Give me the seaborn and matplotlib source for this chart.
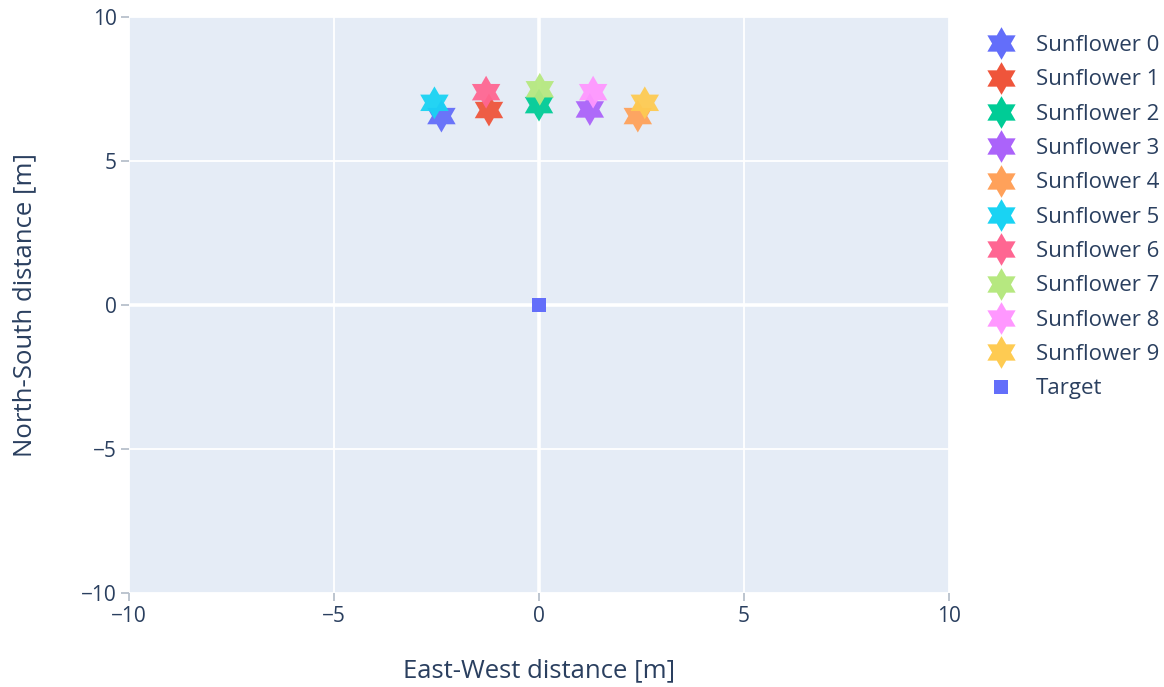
import numpy as np
import pandas as pd
import matplotlib
matplotlib.use("Agg")
import matplotlib.pyplot as plt
from matplotlib.path import Path
from matplotlib.lines import Line2D
import seaborn as sns

# Heliostat ("sunflower") positions and the target, in metres
names = [f"Sunflower {i}" for i in range(10)]
east_west = [-2.38, -1.22, 0.00, 1.24, 2.41, -2.55, -1.29, 0.02, 1.32, 2.58]
north_south = [6.56, 6.77, 6.94, 6.79, 6.56, 7.02, 7.39, 7.49, 7.39, 7.02]
target_name = "Target"
target_x = [0.0]
target_y = [0.0]

colors = ["#636EFA", "#EF553B", "#00CC96", "#AB63FA", "#FFA15A",
          "#19D3F3", "#FF6692", "#B6E880", "#FF97FF", "#FECB52"]

x_ticks = [-10, -5, 0, 5, 10]
y_ticks = [-10, -5, 0, 5, 10]

# Six-pointed star marker (hexagram), first point facing up
ang_out = np.deg2rad(90 + np.arange(6) * 60)
ang_in = ang_out + np.deg2rad(30)
r_in = 1 / np.sqrt(3)
verts = []
for ao, ai in zip(ang_out, ang_in):
    verts.append((np.cos(ao), np.sin(ao)))
    verts.append((r_in * np.cos(ai), r_in * np.sin(ai)))
verts.append(verts[0])
codes = [Path.MOVETO] + [Path.LINETO] * 11 + [Path.CLOSEPOLY]
star6 = Path(verts, codes)

sns.set_theme(style="darkgrid")
text_color = "#2a3f5f"
plt.rcParams["font.family"] = ["Open Sans", "DejaVu Sans"]

fig = plt.figure(figsize=(11.64, 6.87), dpi=100)
ax = fig.add_axes([129 / 1164, 1 - 593 / 687, (949 - 129) / 1164, (593 - 17) / 687])
ax.set_facecolor("#E5ECF6")

sun_df = pd.DataFrame({"name": names, "x": east_west, "y": north_south})
tgt_df = pd.DataFrame({"name": [target_name], "x": target_x, "y": target_y})
palette = dict(zip(names, colors))

sns.scatterplot(data=sun_df, x="x", y="y", hue="name", palette=palette,
                marker=star6, s=560, linewidth=0, alpha=0.95, ax=ax,
                legend=False, zorder=3)
sns.scatterplot(data=tgt_df, x="x", y="y", color="#636EFA", marker="s",
                s=110, linewidth=0, ax=ax, legend=False, zorder=3)

ax.set_xlim(-10, 10)
ax.set_ylim(-10, 10)
ax.set_xticks(x_ticks)
ax.set_yticks(y_ticks)
ax.grid(True, color="white", linewidth=1.3)
ax.axhline(0, color="white", linewidth=2.6, zorder=1)
ax.axvline(0, color="white", linewidth=2.6, zorder=1)
for sp in ax.spines.values():
    sp.set_visible(False)
ax.tick_params(axis="both", which="both", direction="out", length=6,
               width=1.3, color="#b8c0cc", labelcolor=text_color,
               labelsize=15, pad=3, bottom=True, left=True)
ax.set_xlabel("East-West distance [m]", fontsize=18.5, color=text_color)
ax.set_ylabel("North-South distance [m]", fontsize=18.5, color=text_color)
ax.xaxis.set_label_coords(0.5, (593 - 658) / 576)
ax.yaxis.set_label_coords((37 - 129) / 820, 0.5)

handles = [Line2D([], [], linestyle="none", marker=star6, markersize=23.5,
                  markerfacecolor=c, markeredgewidth=0)
           for c in colors]
handles.append(Line2D([], [], linestyle="none", marker="s", markersize=10.5,
                      markerfacecolor="#636EFA", markeredgewidth=0))
leg = fig.legend(handles, names + [target_name], loc="upper left",
                 bbox_to_anchor=(988 / 1164, 1 - 35 / 687), frameon=False,
                 fontsize=16, labelspacing=0.6, handletextpad=0.95,
                 handlelength=1.2, borderpad=0, borderaxespad=0)
for t in leg.get_texts():
    t.set_color(text_color)

fig.savefig("out.png", dpi=100, facecolor="white")
